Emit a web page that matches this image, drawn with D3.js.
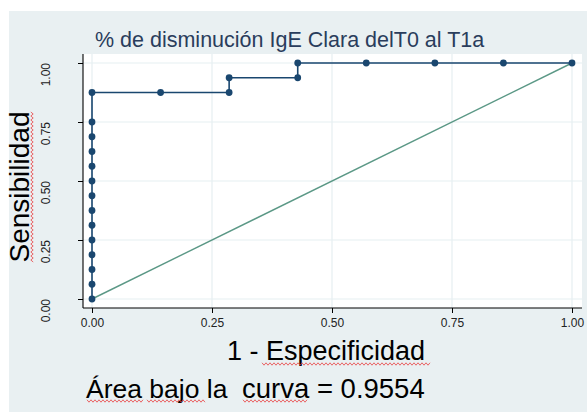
<!DOCTYPE html>
<html>
<head>
<meta charset="utf-8">
<script src="https://cdn.jsdelivr.net/npm/d3@7"></script>
<style>
  html, body { margin: 0; padding: 0; background: #ffffff; }
  svg { display: block; font-family: "Liberation Sans", Arial, sans-serif; }
</style>
</head>
<body>
<svg id="chart" width="587" height="412"></svg>
<script>
// ROC curve points: 1 - specificity and sensitivity at each cut-off
const falsePosRate = [0, 0, 0, 0, 0, 0, 0, 0, 0, 0, 0, 0, 0, 0,
                      0.1429, 0.2857, 0.2857, 0.4286, 0.4286, 0.5714, 0.7143, 0.8571, 1];
const sensitivity  = [0, 0.0625, 0.125, 0.1875, 0.25, 0.3125, 0.375, 0.4375, 0.5, 0.5625, 0.625, 0.6875, 0.75, 0.875,
                      0.875, 0.875, 0.9375, 0.9375, 1, 1, 1, 1, 1];
const tickValues = [0, 0.25, 0.5, 0.75, 1];
const tickLabels = ["0.00", "0.25", "0.50", "0.75", "1.00"];
const aucValue = 0.9554;

const titleText = "% de disminución IgE Clara delT0 al T1a";
const xTitle = "1 - Especificidad";
const yTitle = "Sensibilidad";

const svg = d3.select("#chart");
const navy = "#1a476f";
const refColor = "#5b9886";
const gridColor = "#e6eff1";

// Outer graph region
svg.append("rect").attr("x", 9).attr("y", 11).attr("width", 578).attr("height", 401).attr("fill", "#e9f0f2");

// Plot region
const plot = { left: 83, top: 54, right: 582, bottom: 308 };
svg.append("rect")
  .attr("x", plot.left).attr("y", plot.top)
  .attr("width", plot.right - plot.left).attr("height", plot.bottom - plot.top)
  .attr("fill", "#ffffff");

const x = d3.scaleLinear().domain([0, 1]).range([92, 572]);
const y = d3.scaleLinear().domain([0, 1]).range([299, 63]);

// Grid lines
svg.append("g").selectAll("line").data(tickValues).join("line")
  .attr("x1", d => x(d)).attr("x2", d => x(d))
  .attr("y1", plot.top).attr("y2", plot.bottom)
  .attr("stroke", gridColor).attr("stroke-width", 1.2);
svg.append("g").selectAll("line").data(tickValues).join("line")
  .attr("x1", plot.left).attr("x2", plot.right)
  .attr("y1", d => y(d)).attr("y2", d => y(d))
  .attr("stroke", gridColor).attr("stroke-width", 1.2);

// Axes
const xAxis = d3.axisBottom(x).tickValues(tickValues).tickFormat((d, i) => tickLabels[i]).tickSize(5).tickPadding(5);
const gx = svg.append("g").attr("transform", `translate(0,${plot.bottom})`).call(xAxis);
gx.select(".domain").attr("d", `M${plot.left},0H${plot.right}`).attr("stroke", "#000").attr("stroke-width", 1.1);
gx.selectAll(".tick line").attr("stroke", "#000");
gx.selectAll(".tick text").attr("font-size", 12).attr("fill", "#222")
  .attr("font-family", "'Liberation Sans', Arial, sans-serif");

const yAxis = d3.axisLeft(y).tickValues(tickValues).tickFormat((d, i) => tickLabels[i]).tickSize(5);
const gy = svg.append("g").attr("transform", `translate(${plot.left},0)`).call(yAxis);
gy.select(".domain").attr("d", `M0,${plot.top}V${plot.bottom}`).attr("stroke", "#000").attr("stroke-width", 1.1);
gy.selectAll(".tick line").attr("stroke", "#000");
gy.selectAll(".tick text").remove();
// Rotated y tick labels, reading upward, starting at the tick
svg.append("g").selectAll("text").data(tickValues).join("text")
  .attr("transform", d => `translate(50,${y(d)}) rotate(-90)`)
  .attr("text-anchor", "end")
  .attr("font-size", 12).attr("fill", "#222")
  .text((d, i) => tickLabels[i]);

// Reference diagonal
svg.append("line")
  .attr("x1", x(0)).attr("y1", y(0)).attr("x2", x(1)).attr("y2", y(1))
  .attr("stroke", refColor).attr("stroke-width", 1.4);

// ROC curve
const pts = falsePosRate.map((f, i) => [f, sensitivity[i]]);
svg.append("path")
  .attr("d", d3.line().x(d => x(d[0])).y(d => y(d[1]))(pts))
  .attr("fill", "none").attr("stroke", navy).attr("stroke-width", 1.6);
svg.append("g").selectAll("circle").data(pts).join("circle")
  .attr("cx", d => x(d[0])).attr("cy", d => y(d[1])).attr("r", 3.4)
  .attr("fill", navy);

// Titles
svg.append("text").attr("x", 95).attr("y", 47).attr("font-size", 21.5).attr("fill", "#2a3d5c").text(titleText);
svg.append("text").attr("x", 326).attr("y", 360).attr("text-anchor", "middle")
  .attr("font-size", 27).attr("fill", "#000").text(xTitle);
svg.append("text").attr("transform", "translate(29,187) rotate(-90)").attr("text-anchor", "middle")
  .attr("font-size", 28).attr("fill", "#000").text(yTitle);

svg.append("text").attr("x", 86).attr("y", 398).attr("font-size", 26.5).attr("fill", "#000").text("Área bajo la");
svg.append("text").attr("x", 242).attr("y", 398).attr("font-size", 27.5).attr("fill", "#000")
  .text("curva = " + aucValue.toFixed(4));

// Spell-check style wavy underlines
function wavy(x0, x1, yy, vertical) {
  const p = [];
  let k = 0;
  for (let t = x0; t <= x1; t += 2, k++) {
    const off = (k % 2 === 0) ? -1.2 : 1.2;
    p.push(vertical ? [yy + off, t] : [t, yy + off]);
  }
  svg.append("path").attr("d", d3.line()(p))
    .attr("fill", "none").attr("stroke", "#e8393a").attr("stroke-width", 0.9).attr("opacity", 0.85);
}
wavy(87, 143, 401, false);
wavy(147, 205, 401, false);
wavy(243, 307, 401, false);
wavy(262, 431, 364, false);
wavy(112, 262, 32, true);
</script>
</body>
</html>
